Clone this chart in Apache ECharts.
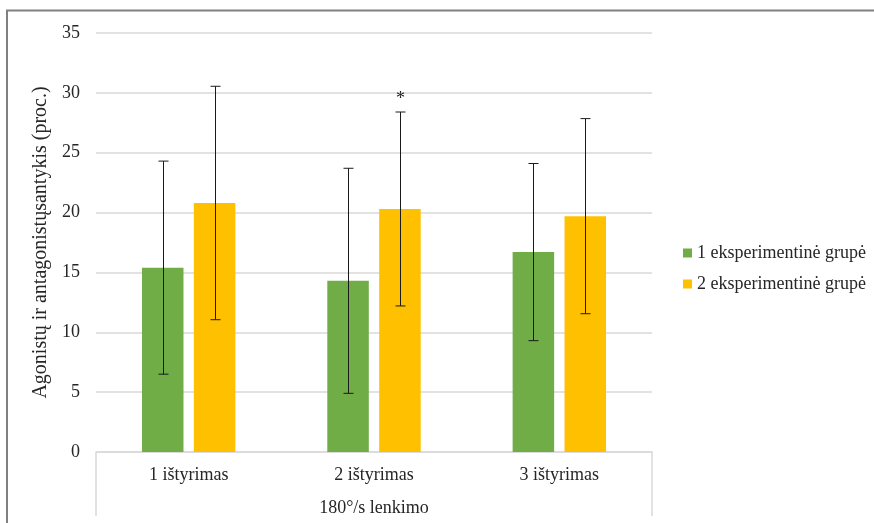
<!DOCTYPE html>
<html>
<head>
<meta charset="utf-8">
<script src="https://cdn.jsdelivr.net/npm/echarts@6/dist/echarts.min.js"></script>
<style>
  html, body { margin: 0; padding: 0; background: #fff; }
  #chart { width: 874px; height: 523px; }
</style>
</head>
<body>
<div id="chart"></div>
<script>
// Study rounds and group results (mean ± SD, %)
const categories = ['1 ištyrimas', '2 ištyrimas', '3 ištyrimas'];
const seriesNames = ['1 eksperimentinė grupė', '2 eksperimentinė grupė'];
const group1Mean = [15.4, 14.3, 16.7];
const group1Sd = [8.9, 9.4, 7.4];
const group2Mean = [20.8, 20.3, 19.7];
const group2Sd = [9.75, 8.1, 8.15];
const group2Marks = ['', '*', ''];
const yTicks = { min: 0, max: 35, interval: 5 };
const yAxisTitle = 'Agonistų ir antagonistųsantykis (proc.)';
const xAxisGroupTitle = '180°/s lenkimo';

const FONT = "'Liberation Serif', 'Times New Roman', serif";
const TEXT = '#262626';
const GRID_COLOR = '#d9d9d9';
const BAR_WIDTH_RATIO = 0.224;   // bar width as a share of the category band
const BAR_GAP_RATIO = 0.25;      // gap between paired bars, share of bar width

const grid = { left: 96, right: 222, top: 33, bottom: 71 };

// Error bar series: each item is [categoryIndex, mean, sd, mark]
function errorSeries(means, sds, marks, side) {
  const data = means.map((m, i) => [i, m, sds[i], marks ? marks[i] : '']);
  return {
    type: 'custom',
    name: 'err' + side,
    silent: true,
    z: 5,
    encode: { x: 0, y: 1 },
    data: data,
    renderItem: function (params, api) {
      const idx = api.value(0);
      const mean = api.value(1);
      const sd = api.value(2);
      const mark = data[params.dataIndex][3];
      const band = api.size([1, 0])[0];
      const bw = band * BAR_WIDTH_RATIO;
      const offset = side * bw * (1 + BAR_GAP_RATIO) / 2;
      const cx = Math.round(api.coord([idx, mean])[0] + offset) + 0.5;
      const yTop = api.coord([idx, mean + sd])[1];
      const yBot = api.coord([idx, mean - sd])[1];
      const cap = 5;
      const style = { stroke: '#1a1a1a', lineWidth: 1 };
      const children = [
        { type: 'line', shape: { x1: cx, y1: yTop, x2: cx, y2: yBot }, style: style },
        { type: 'line', shape: { x1: cx - cap, y1: yTop, x2: cx + cap, y2: yTop }, style: style },
        { type: 'line', shape: { x1: cx - cap, y1: yBot, x2: cx + cap, y2: yBot }, style: style }
      ];
      if (mark) {
        children.push({
          type: 'text',
          style: {
            x: cx, y: yTop - 4, text: mark,
            font: '18px ' + FONT, fill: '#222',
            textAlign: 'center', textVerticalAlign: 'bottom'
          }
        });
      }
      return { type: 'group', children: children };
    }
  };
}

const chart = echarts.init(document.getElementById('chart'), null, { renderer: 'canvas' });

chart.setOption({
  animation: false,
  backgroundColor: '#fff',
  textStyle: { fontFamily: FONT },
  grid: grid,
  legend: {
    orient: 'vertical',
    left: 683,
    top: 244,
    padding: 0,
    itemWidth: 9,
    itemHeight: 9,
    itemGap: 13,
    icon: 'rect',
    data: seriesNames,
    textStyle: { fontFamily: FONT, fontSize: 18, color: TEXT }
  },
  xAxis: {
    type: 'category',
    data: categories,
    axisTick: { show: false },
    axisLine: { lineStyle: { color: GRID_COLOR, width: 1.5 } },
    axisLabel: { fontFamily: FONT, fontSize: 18, color: TEXT, margin: 14 },
    name: xAxisGroupTitle,
    nameLocation: 'middle',
    nameGap: 47,
    nameTextStyle: { fontFamily: FONT, fontSize: 18, color: TEXT }
  },
  yAxis: {
    type: 'value',
    min: yTicks.min,
    max: yTicks.max,
    interval: yTicks.interval,
    axisLine: { show: false },
    axisTick: { show: false },
    splitLine: { lineStyle: { color: GRID_COLOR, width: 1.5 } },
    axisLabel: { fontFamily: FONT, fontSize: 18, color: TEXT, margin: 16 },
    name: yAxisTitle,
    nameLocation: 'middle',
    nameGap: 34,
    nameRotate: 90,
    nameTextStyle: { fontFamily: FONT, fontSize: 20, color: TEXT }
  },
  series: [
    {
      name: seriesNames[0],
      type: 'bar',
      data: group1Mean,
      barWidth: (BAR_WIDTH_RATIO * 100) + '%',
      barGap: (BAR_GAP_RATIO * 100) + '%',
      itemStyle: { color: '#70AD47' }
    },
    {
      name: seriesNames[1],
      type: 'bar',
      data: group2Mean,
      barWidth: (BAR_WIDTH_RATIO * 100) + '%',
      barGap: (BAR_GAP_RATIO * 100) + '%',
      itemStyle: { color: '#FFC000' }
    },
    errorSeries(group1Mean, group1Sd, null, -1),
    errorSeries(group2Mean, group2Sd, group2Marks, 1)
  ],
  graphic: [
    // outer chart frame
    { type: 'rect', silent: true, z: 10,
      shape: { x: 7, y: 10.5, width: 900, height: 600 },
      style: { fill: null, stroke: '#808080', lineWidth: 2 } },
    // side walls of the category label box
    { type: 'line', silent: true,
      shape: { x1: grid.left, y1: 523 - grid.bottom, x2: grid.left, y2: 516 },
      style: { stroke: GRID_COLOR, lineWidth: 1.5 } },
    { type: 'line', silent: true,
      shape: { x1: 874 - grid.right, y1: 523 - grid.bottom, x2: 874 - grid.right, y2: 516 },
      style: { stroke: GRID_COLOR, lineWidth: 1.5 } }
  ]
});
</script>
</body>
</html>
